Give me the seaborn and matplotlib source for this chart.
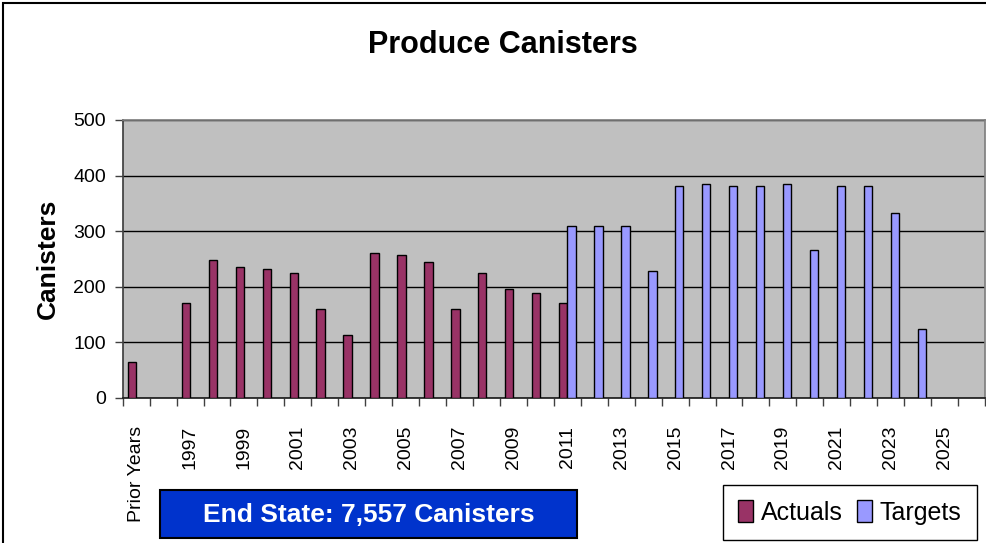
import numpy as np
import pandas as pd
import matplotlib
matplotlib.use("Agg")
import matplotlib.pyplot as plt
from matplotlib.patches import Rectangle
import seaborn as sns

# categories and values
years = ["Prior Years"] + [str(y) for y in range(1996, 2027)]
nan = np.nan
actuals = [64, nan, 170, 248, 235, 232, 225, 160, 114, 261, 257, 245, 160,
           225, 196, 189, 170, nan, nan, nan, nan, nan, nan, nan, nan, nan,
           nan, nan, nan, nan, nan, nan]
targets = [nan, nan, nan, nan, nan, nan, nan, nan, nan, nan, nan, nan, nan,
           nan, nan, nan, 310, 310, 310, 228, 382, 385, 382, 382, 385, 267,
           382, 382, 333, 124, nan, nan]
series = ["Actuals", "Targets"]
colors = ["#993366", "#9999FF"]

df = pd.concat([
    pd.DataFrame({"Year": years, "Canisters": actuals, "Series": "Actuals"}),
    pd.DataFrame({"Year": years, "Canisters": targets, "Series": "Targets"}),
]).dropna()

sns.set_theme(style="white")
plt.rcParams["font.family"] = ["Liberation Sans", "DejaVu Sans"]
plt.rcParams["text.color"] = "black"
plt.rcParams["xtick.color"] = "black"
plt.rcParams["ytick.color"] = "black"
plt.rcParams["axes.labelcolor"] = "black"

W, H = 987, 543
fig = plt.figure(figsize=(W / 100, H / 100), dpi=100)
ax = fig.add_axes([122.7 / W, 1 - 398 / H, (985 - 122.7) / W, (398 - 120) / H])
ax.set_facecolor("#C0C0C0")

sns.barplot(data=df, x="Year", y="Canisters", hue="Series", order=years,
            hue_order=series, palette=colors, saturation=1, width=0.62,
            errorbar=None, edgecolor="black", linewidth=1, ax=ax, zorder=3)

ax.set_xlim(-0.5, len(years) - 0.5)
ax.set_ylim(0, 500)
ax.set_yticks([0, 100, 200, 300, 400, 500])
ax.yaxis.grid(True, color="black", linewidth=1, zorder=1)
ax.set_axisbelow(True)

for s in ["top", "right"]:
    ax.spines[s].set_color("#808080")
ax.spines["left"].set_color("#404040")
ax.spines["bottom"].set_color("#202020")

ax.set_xticks(range(len(years)))
ax.set_xticklabels([y if i % 2 == 0 else "" for i, y in enumerate(years)],
                   rotation=90, fontsize=14)
ax.set_xticks(np.arange(-0.5, len(years), 1), minor=True)
ax.tick_params(axis="x", which="major", length=0, pad=20)
ax.tick_params(axis="x", which="minor", length=6, width=1, color="#404040",
               direction="out", bottom=True)
ax.tick_params(axis="y", length=6, width=1, color="#404040", direction="out",
               left=True, labelsize=14, pad=6)

ax.set_xlabel("")
ax.set_ylabel("Canisters", fontsize=19, fontweight="bold", labelpad=10)

fig.text(503 / W, 1 - 45 / H, "Produce Canisters", ha="center", va="center",
         fontsize=22, fontweight="bold")

# legend
ax.legend(loc="upper left", bbox_to_anchor=(723 / W, 1 - 485 / H),
          bbox_transform=fig.transFigure, ncol=2, frameon=True,
          fancybox=False, edgecolor="black", framealpha=1, fontsize=18,
          handlelength=0.6, handleheight=1.0, handletextpad=0.3,
          columnspacing=0.6, borderpad=0.6, borderaxespad=0)
ax.get_legend().get_frame().set_linewidth(1)

# end state box
fig.patches.append(Rectangle((160 / W, 1 - 538 / H), (577 - 160) / W,
                             (538 - 490) / H, transform=fig.transFigure,
                             facecolor="#0033CC", edgecolor="black",
                             linewidth=1.5, zorder=5))
fig.text((160 + 577) / 2 / W, 1 - 515 / H, "End State: 7,557 Canisters",
         ha="center", va="center", color="white", fontsize=19,
         fontweight="bold", zorder=6)

# outer chart frame
fig.patches.append(Rectangle((3 / W, -0.1), 1.1, 1.1 - 3 / H,
                             transform=fig.transFigure, fill=False,
                             edgecolor="black", linewidth=1.5))

fig.savefig("out.png", dpi=100)
